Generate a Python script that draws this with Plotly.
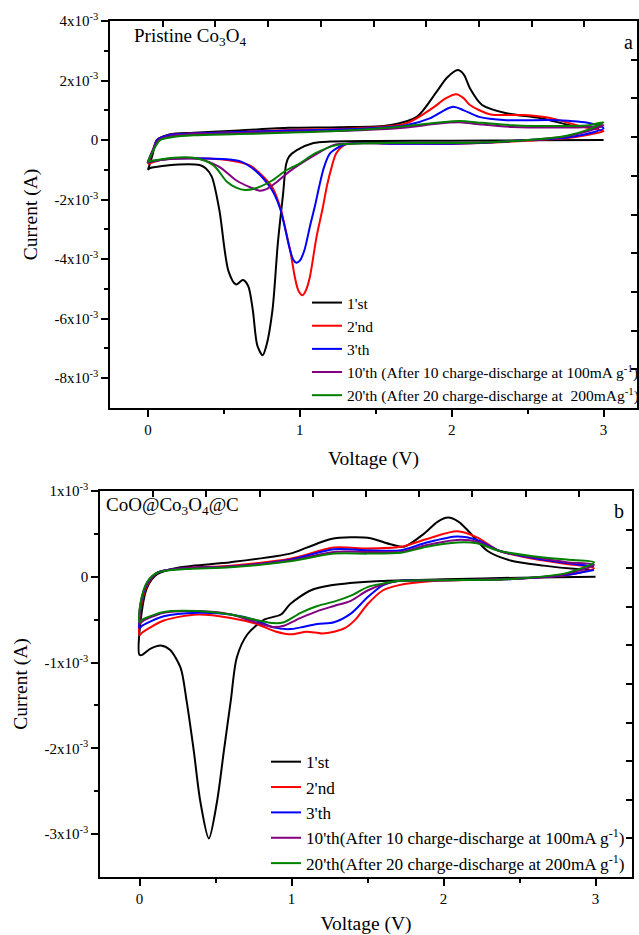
import numpy as np
import plotly.graph_objects as go

# ---------------- Panel a : Pristine Co3O4 (current in mA, converted to A) ----------------
a_v1 = [3.0, 2.5, 2.0, 1.5, 1.2, 1.09, 0.98, 0.93, 0.91, 0.89, 0.855, 0.82, 0.78, 0.755, 0.72, 0.69, 0.66, 0.625,
        0.58, 0.53, 0.47, 0.42, 0.38, 0.34, 0.2, 0.01, 0.0,
        0.0, 0.03, 0.057, 0.1, 0.145, 0.3, 0.6, 0.93, 1.26, 1.59, 1.77, 1.9, 1.97, 2.04, 2.08, 2.12, 2.2, 2.36, 2.58,
        2.8, 2.89, 2.97]
a_i1 = [0.0, -0.01, -0.02, -0.03, -0.05, -0.1, -0.34, -0.55, -0.8, -1.79, -3.47, -5.7, -6.9, -7.23, -6.9, -5.7, -4.9,
        -4.7, -4.85, -4.4, -2.35, -1.23, -0.95, -0.84, -0.82, -0.95, -1.0,
        -1.0, -0.5, 0.0, 0.12, 0.2, 0.25, 0.32, 0.41, 0.43, 0.5, 0.78, 1.62, 2.1, 2.35, 2.2, 1.74, 1.18, 0.9, 0.74,
        0.48, 0.45, 0.4]

a_v2 = [3.0, 2.9, 2.75, 2.5, 2.2, 2.0, 1.6, 1.3, 1.24, 1.21, 1.18, 1.15, 1.11, 1.066, 1.04, 1.018, 0.99, 0.967, 0.94,
        0.91, 0.87, 0.82, 0.76, 0.67, 0.52, 0.28, 0.1, 0.0,
        0.0, 0.03, 0.06, 0.15, 0.3, 0.6, 0.93, 1.3, 1.7, 1.875, 1.96, 2.03, 2.08, 2.12, 2.25, 2.47, 2.64, 2.86, 3.0]
a_i2 = [0.3, 0.18, 0.06, -0.02, -0.1, -0.13, -0.12, -0.15, -0.44, -0.9, -1.5, -2.3, -3.25, -4.6, -5.05, -5.21, -5.05,
        -4.6, -3.8, -3.1, -2.24, -1.6, -1.23, -0.85, -0.67, -0.61, -0.65, -0.8,
        -0.8, -0.4, 0.0, 0.18, 0.22, 0.27, 0.34, 0.38, 0.56, 1.08, 1.4, 1.54, 1.4, 1.18, 0.87, 0.84, 0.75, 0.45, 0.3]

a_v3 = [3.0, 2.9, 2.75, 2.5, 2.25, 2.0, 1.6, 1.3, 1.2, 1.16, 1.13, 1.1, 1.066, 1.03, 1.0, 0.978, 0.955, 0.93, 0.9,
        0.87, 0.83, 0.8, 0.715, 0.6, 0.4, 0.1, 0.0,
        0.0, 0.03, 0.06, 0.15, 0.3, 0.6, 0.93, 1.3, 1.7, 1.855, 1.95, 2.01, 2.08, 2.18, 2.36, 2.69, 2.91, 3.0]
a_i3 = [0.4, 0.22, 0.08, 0.0, -0.08, -0.12, -0.12, -0.14, -0.44, -0.9, -1.5, -2.2, -2.91, -3.7, -4.05, -4.12, -4.0,
        -3.58, -2.9, -2.3, -1.8, -1.55, -1.06, -0.7, -0.62, -0.65, -0.75,
        -0.75, -0.4, 0.0, 0.18, 0.22, 0.27, 0.32, 0.36, 0.5, 0.73, 1.0, 1.12, 1.0, 0.78, 0.67, 0.67, 0.57, 0.4]

a_v4 = [3.0, 2.9, 2.75, 2.5, 2.25, 2.0, 1.6, 1.3, 1.22, 1.1, 0.93, 0.85, 0.78, 0.737, 0.68, 0.58, 0.47, 0.34, 0.2, 0.0,
        0.0, 0.03, 0.07, 0.15, 0.3, 0.6, 1.0, 1.4, 1.7, 1.9, 2.05, 2.2, 2.4, 2.7, 2.9, 3.0]
a_i4 = [0.5, 0.3, 0.12, 0.0, -0.07, -0.1, -0.1, -0.12, -0.17, -0.5, -1.06, -1.4, -1.65, -1.7, -1.6, -1.35, -0.9,
        -0.64, -0.62, -0.72,
        -0.72, -0.35, 0.0, 0.13, 0.2, 0.24, 0.28, 0.33, 0.42, 0.55, 0.6, 0.52, 0.44, 0.42, 0.44, 0.5]

a_v5 = [3.0, 2.9, 2.75, 2.5, 2.25, 2.0, 1.6, 1.35, 1.24, 1.1, 1.0, 0.9, 0.82, 0.72, 0.64, 0.58, 0.52, 0.43, 0.31,
        0.15, 0.0,
        0.0, 0.03, 0.08, 0.165, 0.3, 0.6, 1.0, 1.26, 1.6, 1.9, 2.05, 2.2, 2.4, 2.7, 2.9, 3.0]
a_i5 = [0.6, 0.35, 0.14, 0.0, -0.07, -0.1, -0.1, -0.12, -0.17, -0.45, -0.78, -1.05, -1.35, -1.6, -1.68, -1.6, -1.4,
        -0.84, -0.6, -0.6, -0.72,
        -0.72, -0.4, 0.0, 0.1, 0.16, 0.2, 0.26, 0.31, 0.42, 0.58, 0.64, 0.58, 0.5, 0.47, 0.5, 0.6]

# ---------------- Panel b : CoO@Co3O4@C ----------------
b_v1 = [3.0, 2.5, 2.0, 1.585, 1.26, 1.125, 0.99, 0.93, 0.82, 0.71, 0.64, 0.6, 0.555, 0.51, 0.456, 0.4, 0.357, 0.31,
        0.27, 0.2, 0.14, 0.07, 0.018, 0.0,
        0.005, 0.05, 0.116, 0.27, 0.6, 0.99, 1.1, 1.26, 1.39, 1.52, 1.65, 1.74, 1.87, 1.96, 2.03, 2.1, 2.16, 2.29,
        2.44, 2.66, 2.88, 2.98]
b_i1 = [0.0, -0.01, -0.03, -0.05, -0.1, -0.16, -0.32, -0.44, -0.5, -0.67, -0.94, -1.45, -2.03, -2.62, -3.05, -2.62,
        -2.03, -1.45, -1.06, -0.85, -0.8, -0.84, -0.91, -0.91,
        -0.55, -0.125, 0.03, 0.11, 0.17, 0.27, 0.34, 0.44, 0.46, 0.45, 0.38, 0.35, 0.5, 0.64, 0.69, 0.64, 0.54, 0.3,
        0.19, 0.13, 0.09, 0.08]

b_v2 = [2.99, 2.81, 2.37, 1.93, 1.7, 1.6, 1.5, 1.42, 1.35, 1.28, 1.2, 1.1, 1.0, 0.9, 0.77, 0.6, 0.38, 0.16, 0.018,
        0.0,
        0.005, 0.05, 0.12, 0.3, 0.6, 0.99, 1.28, 1.5, 1.72, 1.89, 2.09, 2.22, 2.37, 2.59, 2.81, 2.99]
b_i2 = [0.1, 0.02, -0.03, -0.05, -0.1, -0.16, -0.32, -0.5, -0.6, -0.64, -0.66, -0.64, -0.67, -0.64, -0.55, -0.48,
        -0.44, -0.51, -0.65, -0.68,
        -0.4, -0.1, 0.05, 0.1, 0.13, 0.21, 0.34, 0.33, 0.35, 0.44, 0.53, 0.46, 0.3, 0.21, 0.15, 0.1]

b_v3 = [2.99, 2.8, 2.4, 2.0, 1.7, 1.6, 1.5, 1.39, 1.28, 1.17, 1.06, 0.99, 0.88, 0.77, 0.6, 0.38, 0.16, 0.018, 0.0,
        0.005, 0.05, 0.12, 0.3, 0.6, 0.99, 1.28, 1.5, 1.72, 1.89, 2.09, 2.22, 2.37, 2.59, 2.81, 2.99]
b_i3 = [0.08, 0.02, -0.03, -0.04, -0.05, -0.1, -0.24, -0.43, -0.53, -0.55, -0.59, -0.61, -0.59, -0.51, -0.44, -0.42,
        -0.46, -0.57, -0.6,
        -0.35, -0.08, 0.05, 0.1, 0.12, 0.2, 0.32, 0.31, 0.31, 0.4, 0.47, 0.43, 0.3, 0.22, 0.16, 0.12]

b_v4 = [2.99, 2.8, 2.4, 2.0, 1.7, 1.6, 1.5, 1.39, 1.28, 1.17, 1.06, 0.95, 0.88, 0.8, 0.6, 0.38, 0.16, 0.018, 0.0,
        0.005, 0.05, 0.12, 0.3, 0.6, 0.99, 1.28, 1.5, 1.72, 1.89, 2.09, 2.22, 2.37, 2.59, 2.81, 2.99]
b_i4 = [0.14, 0.03, -0.03, -0.04, -0.05, -0.09, -0.16, -0.28, -0.34, -0.4, -0.48, -0.57, -0.585, -0.55, -0.44, -0.4,
        -0.42, -0.52, -0.55,
        -0.33, -0.07, 0.05, 0.1, 0.12, 0.19, 0.29, 0.29, 0.29, 0.37, 0.43, 0.41, 0.3, 0.23, 0.17, 0.14]

b_v5 = [2.99, 2.8, 2.4, 2.0, 1.7, 1.6, 1.5, 1.39, 1.28, 1.17, 1.06, 0.95, 0.88, 0.76, 0.6, 0.38, 0.16, 0.018, 0.0,
        0.005, 0.05, 0.12, 0.3, 0.6, 0.99, 1.28, 1.5, 1.72, 1.89, 2.09, 2.22, 2.37, 2.59, 2.81, 2.99]
b_i5 = [0.17, 0.04, -0.03, -0.04, -0.05, -0.08, -0.12, -0.22, -0.29, -0.34, -0.42, -0.53, -0.54, -0.5, -0.44, -0.4,
        -0.41, -0.5, -0.53,
        -0.32, -0.06, 0.05, 0.09, 0.11, 0.18, 0.27, 0.27, 0.28, 0.35, 0.4, 0.39, 0.3, 0.24, 0.2, 0.17]

names_a = ["1'st", "2'nd", "3'th",
           "10'th (After 10 charge-discharge at 100mA g<sup>-1</sup>)",
           "20'th (After 20 charge-discharge at &nbsp;200mAg<sup>-1</sup>)"]
names_b = ["1'st", "2'nd", "3'th",
           "10'th(After 10 charge-discharge at 100mA g<sup>-1</sup>)",
           "20'th(After 20 charge-discharge at 200mA g<sup>-1</sup>)"]
colors = ["#000000", "#ff0000", "#0000ff", "#800080", "#008000"]

a_yticks = [4e-3, 2e-3, 0, -2e-3, -4e-3, -6e-3, -8e-3]
a_yticktext = ["4x10<sup>-3</sup>", "2x10<sup>-3</sup>", "0", "-2x10<sup>-3</sup>", "-4x10<sup>-3</sup>",
               "-6x10<sup>-3</sup>", "-8x10<sup>-3</sup>"]
b_yticks = [1e-3, 0, -1e-3, -2e-3, -3e-3]
b_yticktext = ["1x10<sup>-3</sup>", "0", "-1x10<sup>-3</sup>", "-2x10<sup>-3</sup>", "-3x10<sup>-3</sup>"]
x_ticks = [0, 1, 2, 3]

W, H = 639, 935
FONT = "Liberation Serif"

fig = go.Figure()
a_data = [(a_v1, a_i1), (a_v2, a_i2), (a_v3, a_i3), (a_v4, a_i4), (a_v5, a_i5)]
b_data = [(b_v1, b_i1), (b_v2, b_i2), (b_v3, b_i3), (b_v4, b_i4), (b_v5, b_i5)]
for (v, i), nm, c in zip(a_data, names_a, colors):
    fig.add_trace(go.Scatter(x=v, y=np.array(i) * 1e-3, mode="lines", name=nm,
                             line=dict(color=c, width=2, shape="spline", smoothing=0.8),
                             xaxis="x", yaxis="y", legend="legend"))
for (v, i), nm, c in zip(b_data, names_b, colors):
    fig.add_trace(go.Scatter(x=v, y=np.array(i) * 1e-3, mode="lines", name=nm,
                             line=dict(color=c, width=2, shape="spline", smoothing=0.8),
                             xaxis="x2", yaxis="y2", legend="legend2"))
# dummy traces for the frame axes (top / right)
fig.add_trace(go.Scatter(x=[None], y=[None], xaxis="x3", yaxis="y3", showlegend=False, hoverinfo="skip"))
fig.add_trace(go.Scatter(x=[None], y=[None], xaxis="x4", yaxis="y4", showlegend=False, hoverinfo="skip"))

def px_x(p):
    return p / W

def px_y(p):
    return 1 - p / H

tickfont = dict(family=FONT, size=15, color="black")
titlefont = dict(family=FONT, size=19.5, color="black")
axis_common = dict(showline=True, linecolor="black", linewidth=1.5, showgrid=False, zeroline=False,
                   ticks="outside", ticklen=7, tickwidth=1.5, tickcolor="black", tickfont=tickfont,
                   automargin=False)
frame_common = dict(showline=True, linecolor="black", linewidth=1.5, showgrid=False, zeroline=False,
                    ticks="inside", ticklen=6, tickwidth=1.5, tickcolor="black", showticklabels=False,
                    range=[0, 10], tickvals=list(range(1, 10)), fixedrange=True, automargin=False)

fig.update_layout(
    width=W, height=H, margin=dict(l=0, r=0, t=0, b=0, autoexpand=False),
    paper_bgcolor="white", plot_bgcolor="white",
    font=dict(family=FONT, color="black"),
    xaxis=dict(**axis_common, domain=[px_x(110), px_x(637)], range=[-0.25, 3.22], anchor="y",
               tickvals=x_ticks, ticktext=[str(t) for t in x_ticks],
               minor=dict(tickvals=[0.5, 1.5, 2.5], ticks="outside", ticklen=4, tickwidth=1.5, tickcolor="black"),
               title=dict(text="Voltage (V)", font=titlefont, standoff=15)),
    yaxis=dict(**axis_common, domain=[px_y(408), px_y(21)], range=[-9e-3, 4e-3], anchor="x",
               tickvals=a_yticks, ticktext=a_yticktext,
               minor=dict(tickvals=[3e-3, 1e-3, -1e-3, -3e-3, -5e-3, -7e-3], ticks="outside", ticklen=4,
                          tickwidth=1.5, tickcolor="black"),
               title=dict(text="Current (A)", font=titlefont, standoff=12)),
    xaxis2=dict(**axis_common, domain=[px_x(100), px_x(632)], range=[-0.26, 3.24], anchor="y2",
                tickvals=x_ticks, ticktext=[str(t) for t in x_ticks],
                minor=dict(tickvals=[0.5, 1.5, 2.5], ticks="outside", ticklen=4, tickwidth=1.5, tickcolor="black"),
                title=dict(text="Voltage (V)", font=titlefont, standoff=13)),
    yaxis2=dict(**axis_common, domain=[px_y(877), px_y(491)], range=[-3.5e-3, 1e-3], anchor="x2",
                tickvals=b_yticks, ticktext=b_yticktext,
                minor=dict(tickvals=[0.5e-3, -0.5e-3, -1.5e-3, -2.5e-3], ticks="outside", ticklen=4,
                           tickwidth=1.5, tickcolor="black"),
                title=dict(text="Current (A)", font=titlefont, standoff=12)),
    xaxis3=dict(**frame_common, overlaying="x", side="top", anchor="y"),
    yaxis3=dict(**frame_common, overlaying="y", side="right", anchor="x"),
    xaxis4=dict(**frame_common, overlaying="x2", side="top", anchor="y2"),
    yaxis4=dict(**frame_common, overlaying="y2", side="right", anchor="x2"),
    legend=dict(x=px_x(307), y=px_y(286), xanchor="left", yanchor="top", bgcolor="rgba(0,0,0,0)",
                font=dict(family=FONT, size=15.5, color="black"), tracegroupgap=0),
    legend2=dict(x=px_x(266), y=px_y(744), xanchor="left", yanchor="top", bgcolor="rgba(0,0,0,0)",
                 font=dict(family=FONT, size=17.2, color="black"), tracegroupgap=0),
    annotations=[
        dict(text="Pristine Co<sub>3</sub>O<sub>4</sub>", x=px_x(132), y=px_y(37), xref="paper", yref="paper",
             xanchor="left", yanchor="middle", showarrow=False, font=dict(family=FONT, size=19, color="black")),
        dict(text="a", x=px_x(628), y=px_y(42), xref="paper", yref="paper", xanchor="center", yanchor="middle",
             showarrow=False, font=dict(family=FONT, size=20, color="black")),
        dict(text="CoO@Co<sub>3</sub>O<sub>4</sub>@C", x=px_x(104), y=px_y(506), xref="paper", yref="paper",
             xanchor="left", yanchor="middle", showarrow=False, font=dict(family=FONT, size=19, color="black")),
        dict(text="b", x=px_x(619), y=px_y(511), xref="paper", yref="paper", xanchor="center", yanchor="middle",
             showarrow=False, font=dict(family=FONT, size=20, color="black")),
    ],
)

fig.write_html("out.html")
